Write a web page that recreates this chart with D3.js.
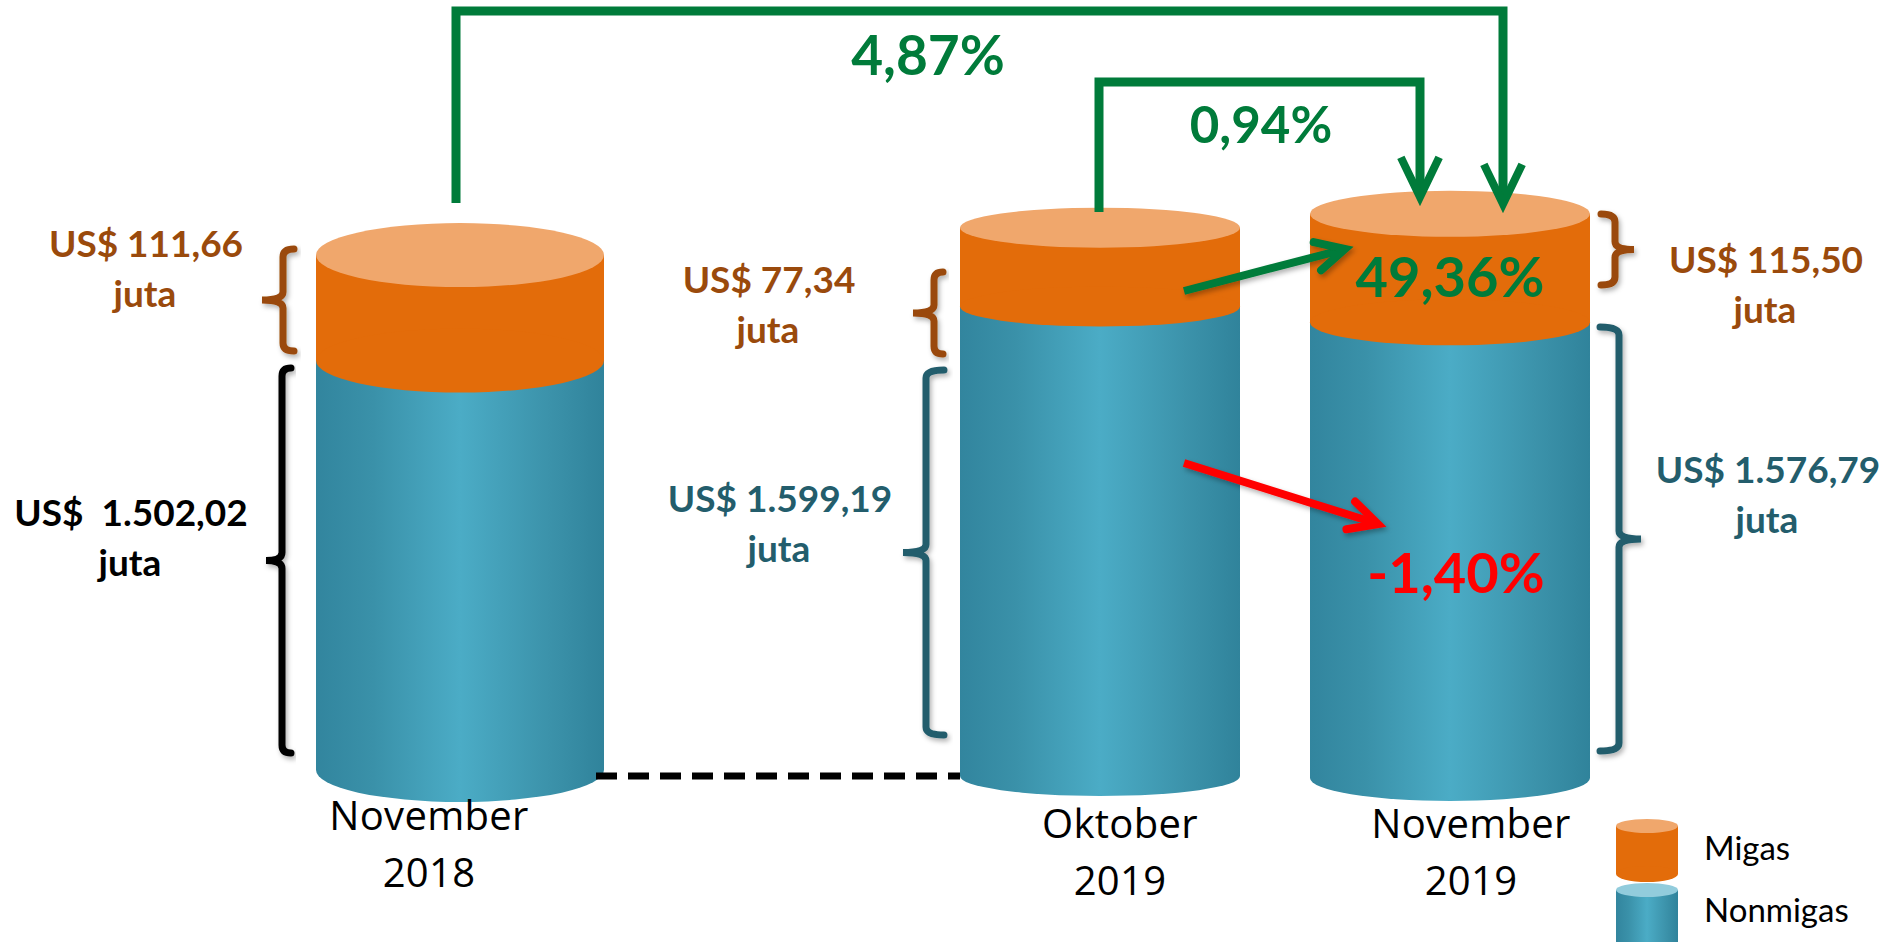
<!DOCTYPE html>
<html>
<head>
<meta charset="utf-8">
<script src="https://cdnjs.cloudflare.com/ajax/libs/d3/7.8.5/d3.min.js"></script>
<style>
  body { margin: 0; background: #fff; }
  svg { display: block; }
</style>
</head>
<body>
<svg id="chart" width="1895" height="942"></svg>
<script>
// data
const categories = ["Nov2018", "Okt2019", "Nov2019"];
const categoryLines = [["November", "2018"], ["Oktober", "2019"], ["November", "2019"]];
const migas = [111.66, 77.34, 115.50];       // juta US$
const nonmigas = [1502.02, 1599.19, 1576.79]; // juta US$
const totalChange = [4.87, 0.94];            // Nov2018->Nov2019, Okt2019->Nov2019
const migasChange = [49.36];                 // Okt2019->Nov2019
const nonmigasChange = [-1.40];              // Okt2019->Nov2019
const legendItems = ["Migas", "Nonmigas"];

const loc = d3.formatLocale({ decimal: ",", thousands: ".", grouping: [3], currency: ["US$ ", ""], minus: "-" });
const fmt = loc.format(",.2f");
const pct = v => fmt(v) + "%";

const colors = {
  orange: "#E36C0A", orangeTop: "#F0A76C", brown: "#9A4A0C",
  teal: "#235D6C", green: "#007B3A", red: "#FF0000"
};

const svg = d3.select("#chart");
const defs = svg.append("defs");

const grad = defs.append("linearGradient").attr("id", "tealGrad")
  .attr("x1", "0%").attr("x2", "100%").attr("y1", "0%").attr("y2", "0%");
[[0, "#32859E"], [0.2, "#3A91A9"], [0.5, "#4BACC6"], [0.8, "#3C93AB"], [1, "#30839B"]]
  .forEach(s => grad.append("stop").attr("offset", s[0]).attr("stop-color", s[1]));

const shadow = defs.append("filter").attr("id", "shadow")
  .attr("x", "-20%").attr("y", "-20%").attr("width", "140%").attr("height", "140%");
shadow.append("feDropShadow").attr("dx", 2).attr("dy", 3).attr("stdDeviation", 2.5)
  .attr("flood-color", "#000").attr("flood-opacity", 0.3);

// scales (the picture uses a cut-off scale for each part)
const x = d3.scaleOrdinal().domain(categories).range([460, 1100, 1450]);
const hNon = d3.scaleLinear().domain([840, 1600]).range([0, 470]);
const hMig = d3.scaleLinear().domain([-24, 120]).range([0, 112]);

const cylLayout = [
  { rx: 144, ry: 32, base: 770 },
  { rx: 140, ry: 20, base: 776 },
  { rx: 140, ry: 23, base: 778 }
];

const cyls = categories.map((c, i) => {
  const L = cylLayout[i];
  const yB = L.base - hNon(nonmigas[i]);
  const yT = yB - hMig(migas[i]);
  return { cat: c, cx: x(c), rx: L.rx, ry: L.ry, base: L.base, yB: yB, yT: yT };
});

// cylinders
const gc = svg.append("g");
cyls.forEach(d => {
  const g = gc.append("g");
  g.append("rect").attr("x", d.cx - d.rx).attr("y", d.yB)
    .attr("width", d.rx * 2).attr("height", d.base - d.yB).attr("fill", "url(#tealGrad)");
  g.append("ellipse").attr("cx", d.cx).attr("cy", d.base)
    .attr("rx", d.rx).attr("ry", d.ry).attr("fill", "url(#tealGrad)");
  g.append("rect").attr("x", d.cx - d.rx).attr("y", d.yT)
    .attr("width", d.rx * 2).attr("height", d.yB - d.yT).attr("fill", colors.orange);
  g.append("ellipse").attr("cx", d.cx).attr("cy", d.yB)
    .attr("rx", d.rx).attr("ry", d.ry).attr("fill", colors.orange);
  g.append("ellipse").attr("cx", d.cx).attr("cy", d.yT)
    .attr("rx", d.rx).attr("ry", d.ry).attr("fill", colors.orangeTop);
});

// dashed base line between Nov 2018 and Okt 2019
svg.append("line")
  .attr("x1", cyls[0].cx + cyls[0].rx - 8).attr("x2", cyls[1].cx - cyls[1].rx)
  .attr("y1", cyls[1].base).attr("y2", cyls[1].base)
  .attr("stroke", "#000").attr("stroke-width", 7).attr("stroke-dasharray", "21 11");

// braces
function bracePath(xv, y0, y1, hook, nub) {
  const r = 8, ym = (y0 + y1) / 2;
  return `M${hook},${y0} Q${xv},${y0} ${xv},${y0 + r} L${xv},${ym - r} Q${xv},${ym} ${nub},${ym}` +
         ` Q${xv},${ym} ${xv},${ym + r} L${xv},${y1 - r} Q${xv},${y1} ${hook},${y1}`;
}
const braces = [
  { x: 283, y0: 249, y1: 351, hook: 294, nub: 262, color: colors.brown },
  { x: 282, y0: 368, y1: 753, hook: 291, nub: 266, color: "#000" },
  { x: 934, y0: 272, y1: 354, hook: 943, nub: 913, color: colors.brown },
  { x: 926, y0: 370, y1: 735, hook: 944, nub: 903, color: colors.teal },
  { x: 1615, y0: 214, y1: 285, hook: 1601, nub: 1634, color: colors.brown },
  { x: 1619, y0: 327, y1: 751, hook: 1600, nub: 1641, color: colors.teal }
];
svg.append("g").selectAll("path").data(braces).join("path")
  .attr("d", d => bracePath(d.x, d.y0, d.y1, d.hook, d.nub))
  .attr("fill", "none").attr("stroke", d => d.color).attr("stroke-width", 7)
  .attr("stroke-linecap", "round").attr("filter", "url(#shadow)");

// value labels
const valueLabels = [
  { t: "US$ " + fmt(migas[0]), x: 146, y: 257, c: colors.brown },
  { t: "US$  " + fmt(nonmigas[0]), x: 131, y: 526, c: "#000" },
  { t: "US$ " + fmt(migas[1]), x: 769, y: 293, c: colors.brown },
  { t: "US$ " + fmt(nonmigas[1]), x: 780, y: 512, c: colors.teal },
  { t: "US$ " + fmt(migas[2]), x: 1766, y: 273, c: colors.brown },
  { t: "US$ " + fmt(nonmigas[2]), x: 1768, y: 483, c: colors.teal }
];
const gl = svg.append("g").attr("font-family", "Lato, 'Open Sans', sans-serif")
  .attr("font-weight", "bold").attr("font-size", 37).attr("text-anchor", "middle");
valueLabels.forEach(d => {
  const t = gl.append("text").attr("fill", d.c).style("white-space", "pre");
  t.append("tspan").attr("x", d.x).attr("y", d.y).text(d.t);
  t.append("tspan").attr("x", d.x - 1).attr("y", d.y + 50).text("juta");
});

// category labels
const catOffset = [-31, 20, 21];
const gt = svg.append("g").attr("font-family", "'Open Sans', sans-serif")
  .attr("font-size", 40).attr("letter-spacing", 0.3).attr("text-anchor", "middle").attr("fill", "#000");
categories.forEach((c, i) => {
  const y0 = i === 0 ? 830 : 838;
  categoryLines[i].forEach((line, k) => {
    gt.append("text").attr("x", x(c) + catOffset[i]).attr("y", y0 + k * 57).text(line);
  });
});

// arrows
function headPath(tx, ty, ang, len, half) {
  const a1 = ang + Math.PI - half, a2 = ang + Math.PI + half;
  return `M${tx + len * Math.cos(a1)},${ty + len * Math.sin(a1)} L${tx},${ty} L${tx + len * Math.cos(a2)},${ty + len * Math.sin(a2)}`;
}
const ga = svg.append("g").attr("fill", "none").attr("stroke-linejoin", "miter");

// growth brackets over the top
const topY = 11, midY = 82;
const big = { x0: x("Nov2018") - 4, y0: 203, x1: x("Nov2019") + 53, y1: 204 };
const small = { x0: x("Okt2019") - 1, y0: 212, x1: x("Nov2019") - 30, y1: 197 };
[[big, topY], [small, midY]].forEach(([b, yy]) => {
  ga.append("path").attr("d", `M${b.x0},${b.y0} L${b.x0},${yy} L${b.x1},${yy} L${b.x1},${b.y1 - 4}`)
    .attr("stroke", colors.green).attr("stroke-width", 9);
  ga.append("path").attr("d", headPath(b.x1, b.y1, Math.PI / 2, 44, 0.45))
    .attr("stroke", colors.green).attr("stroke-width", 8);
});

// diagonal change arrows
const diag = [
  { x0: 1184, y0: 291, x1: 1345, y1: 249, c: colors.green },
  { x0: 1184, y0: 463, x1: 1378, y1: 524, c: colors.red }
];
diag.forEach(d => {
  const ang = Math.atan2(d.y1 - d.y0, d.x1 - d.x0);
  const g = ga.append("g").attr("filter", "url(#shadow)");
  g.append("line").attr("x1", d.x0).attr("y1", d.y0)
    .attr("x2", d.x1 - 4 * Math.cos(ang)).attr("y2", d.y1 - 4 * Math.sin(ang))
    .attr("stroke", d.c).attr("stroke-width", 8);
  g.append("path").attr("d", headPath(d.x1, d.y1, ang, 32, 0.47))
    .attr("stroke", d.c).attr("stroke-width", 8).attr("stroke-linecap", "round");
});

// percentage labels
const gp = svg.append("g").attr("font-family", "Lato, 'Open Sans', sans-serif")
  .attr("font-weight", "bold").attr("text-anchor", "middle");
gp.append("text").attr("x", 928).attr("y", 75).attr("font-size", 55)
  .attr("fill", colors.green).text(pct(totalChange[0]));
gp.append("text").attr("x", 1261).attr("y", 143).attr("font-size", 51)
  .attr("fill", colors.green).text(pct(totalChange[1]));
gp.append("text").attr("x", x("Nov2019")).attr("y", 297).attr("font-size", 56)
  .attr("fill", colors.green).text(pct(migasChange[0]));
gp.append("text").attr("x", x("Nov2019") + 6).attr("y", 593).attr("font-size", 56)
  .attr("fill", colors.red).text(pct(nonmigasChange[0]));

// legend
const lg = svg.append("g");
const lcx = 1647, lrx = 31;
lg.append("rect").attr("x", lcx - lrx).attr("y", 826).attr("width", lrx * 2).attr("height", 48).attr("fill", colors.orange);
lg.append("ellipse").attr("cx", lcx).attr("cy", 874).attr("rx", lrx).attr("ry", 8).attr("fill", colors.orange);
lg.append("ellipse").attr("cx", lcx).attr("cy", 826).attr("rx", lrx).attr("ry", 7).attr("fill", colors.orangeTop);
lg.append("rect").attr("x", lcx - lrx).attr("y", 890).attr("width", lrx * 2).attr("height", 60).attr("fill", "url(#tealGrad)");
lg.append("ellipse").attr("cx", lcx).attr("cy", 890).attr("rx", lrx).attr("ry", 7).attr("fill", "#92CCDC");
lg.selectAll("text").data(legendItems).join("text")
  .attr("x", 1704).attr("y", (d, i) => 860 + i * 62)
  .attr("font-family", "Lato, 'Open Sans', sans-serif").attr("font-size", 33)
  .attr("fill", "#000").text(d => d);
</script>
</body>
</html>
